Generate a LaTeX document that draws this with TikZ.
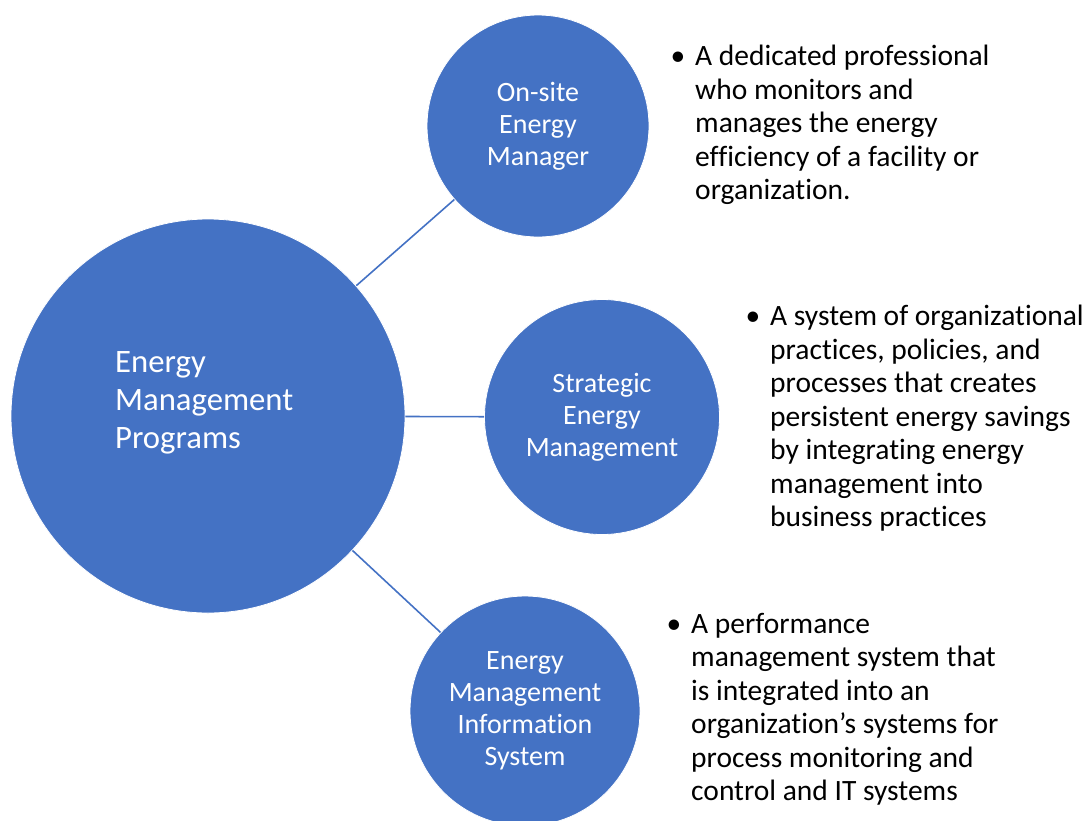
\documentclass[tikz,border=0pt]{standalone}
\usepackage{fontspec}
\setmainfont{Carlito}[Ligatures=NoCommon]
\usepackage{xcolor}
\definecolor{smartblue}{HTML}{4472C4}

\begin{document}
\begin{tikzpicture}[x=1pt,y=-1pt,
  bubble/.style={circle,fill=smartblue,draw=white,line width=0.8pt,inner sep=0pt,
    text=white,align=center,font=\fontsize{28}{32}\selectfont},
  desc/.style={anchor=north west,inner sep=0pt,align=left,
    font=\fontsize{29.5}{33.5}\selectfont},
  link/.style={draw=smartblue,line width=1.6pt}]
\useasboundingbox (0,0) rectangle (1091,820);
\node[bubble,minimum size=394pt] (hub) at (208,416) {};
\node[anchor=north west,inner sep=0pt,align=left,text=white,font=\fontsize{32.7}{38}\selectfont] (hubtxt) at (115,351) {Energy\\Management\\Programs};
\node[bubble,minimum size=222pt] (onsite) at (538,126) {On-site\\Energy\\Manager};
\node[bubble,minimum size=235pt] (sem) at (602,417) {Strategic\\Energy\\Management};
\node[bubble,minimum size=230pt] (emis) at (525,711) {Energy\\Management\\Information\\System};
\draw[link] (hub) -- (onsite);
\draw[link] (hub) -- (sem);
\draw[link] (hub) -- (emis);
\node[desc] (onsitetxt) at (695,45) {\llap{\textbullet\hspace{10pt}}A dedicated professional\\who monitors and\\manages the energy\\efficiency of a facility or\\organization.};
\node[desc] (semtxt) at (770,305) {\llap{\textbullet\hspace{10pt}}A system of organizational\\practices, policies, and\\processes that creates\\persistent energy savings\\by integrating energy\\management into\\business practices};
\node[desc] (emistxt) at (691,613) {\llap{\textbullet\hspace{10pt}}A performance\\management system that\\is integrated into an\\organization’s systems for\\process monitoring and\\control and IT systems};
\end{tikzpicture}
\end{document}
